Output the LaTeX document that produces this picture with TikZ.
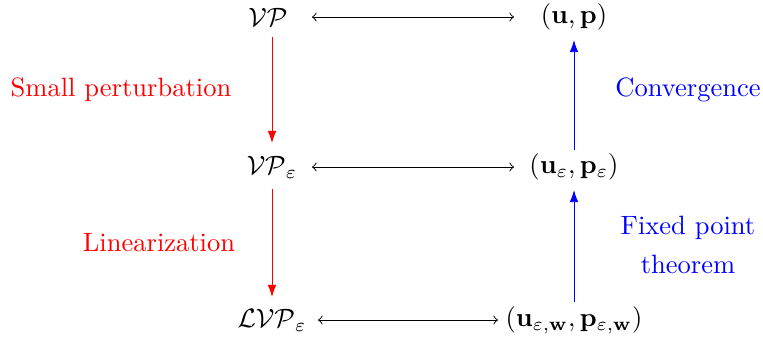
\documentclass[tikz,border=0pt]{standalone}
\usepackage{amsmath,amssymb}
\usetikzlibrary{arrows,arrows.meta}
\begin{document}
\begin{tikzpicture}[x=0.377pt,y=-0.377pt,line width=0.36pt,
  lbl/.style={inner sep=0pt},
  harrow/.style={<->,>=to},
  redarrow/.style={-{Latex[length=4.6pt,width=3.3pt]},red},
  bluearrow/.style={-{Latex[length=4.6pt,width=3.3pt]},blue},
  redtext/.style={text=red,align=center},
  bluetext/.style={text=blue,align=center}]
\useasboundingbox (0,0) rectangle (763,339);
\node[lbl] (vp) at (268,17) {$\mathcal{VP}$};
\node[lbl] (up) at (574,17) {$(\mathbf{u},\mathbf{p})$};
\node[lbl] (vpe) at (272,167) {$\mathcal{VP}_\varepsilon$};
\node[lbl] (upe) at (574,167) {$(\mathbf{u}_\varepsilon,\mathbf{p}_\varepsilon)$};
\node[lbl] (lvp) at (272,320) {$\mathcal{LVP}_\varepsilon$};
\node[lbl] (upw) at (574,320) {$(\mathbf{u}_{\varepsilon,\mathbf{w}},\mathbf{p}_{\varepsilon,\mathbf{w}})$};
\draw[harrow,shorten <=16.59pt,shorten >=22.62pt] (vp.center) -- (up.center);
\draw[harrow,shorten <=15.08pt,shorten >=22.62pt] (vpe.center) -- (upe.center);
\draw[harrow,shorten <=17.34pt,shorten >=28.65pt] (lvp.center) -- (upw.center);
\draw[redarrow,shorten <=7.54pt,shorten >=9.05pt] (vpe.center |- vp.center) -- (vpe.center);
\draw[redarrow,shorten <=8.29pt,shorten >=8.67pt] (vpe.center) -- (lvp.center);
\draw[bluearrow,shorten <=6.79pt,shorten >=8.67pt] (upw.center) -- (upe.center);
\draw[bluearrow,shorten <=6.41pt,shorten >=8.67pt] (upe.center) -- (up.center);
\node[redtext] (sp) at (121,90) {Small perturbation};
\node[redtext] (li) at (159,243) {Linearization};
\node[bluetext] (cv) at (688,90) {Convergence};
\node[bluetext] (fp) at (688,245) {Fixed point\\[3pt]theorem};
\end{tikzpicture}
\end{document}
